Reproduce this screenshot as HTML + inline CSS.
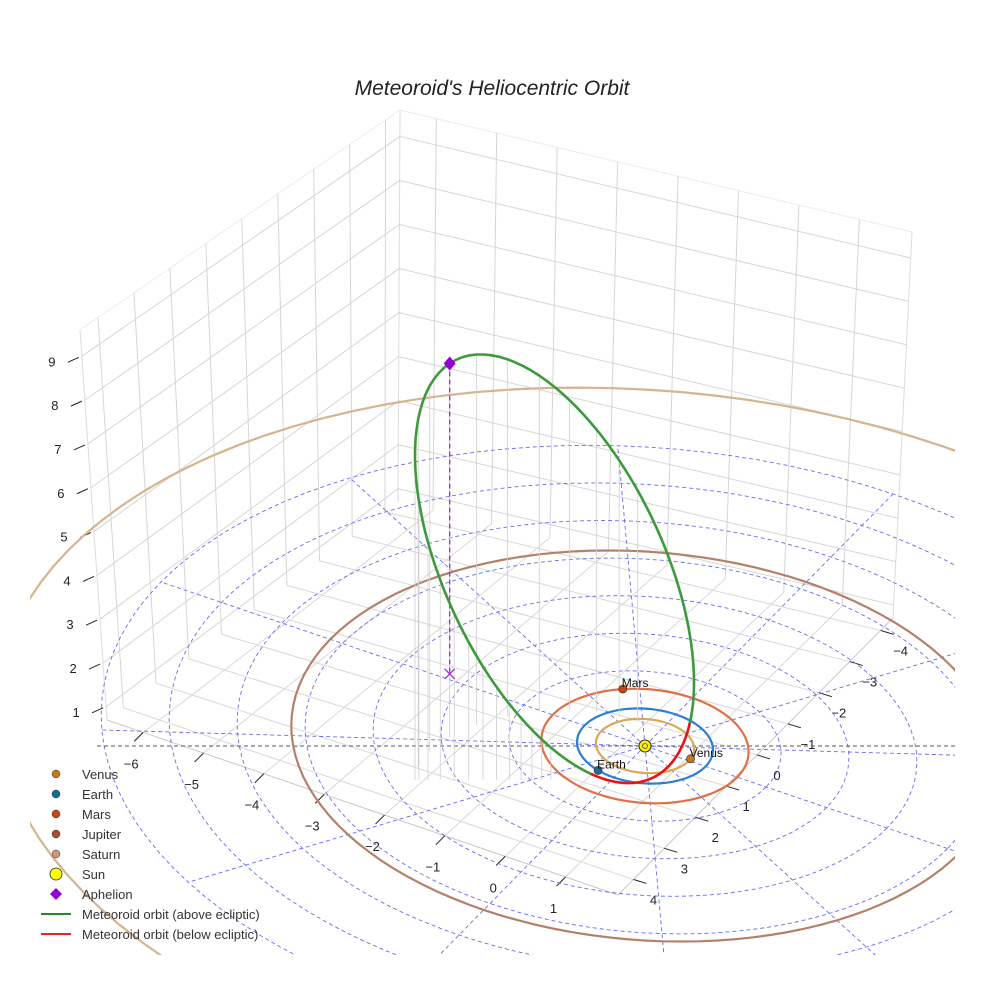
<!DOCTYPE html>
<html><head><meta charset="utf-8"><style>
html,body{margin:0;padding:0;background:#fff;overflow:hidden;width:984px;height:984px;}
svg{display:block;font-family:"Liberation Sans",sans-serif;}
</style></head><body>
<svg id="chart" width="984" height="984" viewBox="0 0 984 984" xmlns="http://www.w3.org/2000/svg">
<rect width="984" height="984" fill="#fff"/>
<text x="492" y="95" text-anchor="middle" font-size="21" font-style="italic" fill="#222">Meteoroid's Heliocentric Orbit</text>
<defs><clipPath id="clip"><rect x="30" y="0" width="925" height="955"/></clipPath></defs>
<g id="box"></g>
<g id="plane" clip-path="url(#clip)"></g>
<g id="data"></g>
<g id="legend"></g>
</svg>
<script>
// ---- data ----
const planetNames = ["Venus","Earth","Mars","Jupiter","Saturn"];
const planetRadii = [0.723,1.0,1.524,5.203,9.537];
const planetAngles = [-5,106.5,230.5,null,null];
const orbitColors = ["#dba955","#2a7fd4","#e07045","#b5806a","#d6b48e"];
const markerColors = ["#c47a16","#1a6a9a","#cc4410","#a0522d","#c89a78"];
const gridRings = [1,2,3,4,5,6,7,8];
const spokeAngles = [0,30,60,90,120,150,180,210,240,270,300,330];
const xTicks = [-6,-5,-4,-3,-2,-1,0,1];
const yTicks = [-4,-3,-2,-1,0,1,2,3,4];
const zTicks = [1,2,3,4,5,6,7,8,9];
// meteoroid orbit (heliocentric): perihelion & aphelion distances, aphelion position, node direction
const meteoroidQ = [0.56];
const meteoroidAphelionDist = [7.65];
const aphelionDir = [-3.3,-0.14,6.9];
const nodeAngle = [106.5];

const NS="http://www.w3.org/2000/svg";
function el(tag,attrs,parent){const e=document.createElementNS(NS,tag);for(const k in attrs)e.setAttribute(k,attrs[k]);parent.appendChild(e);return e;}
function proj(x,y,z){return [645+60.5*x-31*y, 746+20.5*x+31.5*y-45*z];}
function lerp(a,b,t){return [a[0]+(b[0]-a[0])*t,a[1]+(b[1]-a[1])*t];}
const box=document.getElementById('box'),plane=document.getElementById('plane'),data=document.getElementById('data'),legend=document.getElementById('legend');

// ---- box walls ----
const LT=[80,330],LB=[107,720],BT=[400,110],BB=[398,502],RT=[912,232],RB=[893,618],FB=[618,895];
const zs=z=>(z-0.7)/8.9, ysL=y=>(4.5-y)/8.9, xsR=x=>(x+6.6)/8.47;
function line(p,q,st,w,par,name){const l=el('line',{x1:p[0],y1:p[1],x2:q[0],y2:q[1],stroke:st,'stroke-width':w},par);return l;}
line(LT,BT,'#ececec',1,box,'box-edge');line(BT,RT,'#ececec',1,box,'box-edge');
line(LT,LB,'#dcdcdc',1,box,'box-edge');line(RT,RB,'#dcdcdc',1,box,'box-edge');line(BT,BB,'#dcdcdc',1,box,'box-edge');
line(LB,FB,'#c8c8c8',1,box,'box-edge');line(FB,RB,'#c8c8c8',1,box,'box-edge');
zTicks.forEach(z=>{const t=zs(z);
 line(lerp(LB,LT,t),lerp(BB,BT,t),'#d6d6d6',1,box,'wall-gridline');
 line(lerp(BB,BT,t),lerp(RB,RT,t),'#d6d6d6',1,box,'wall-gridline');});
yTicks.forEach(y=>{const s=ysL(y);
 line(lerp(LB,BB,s),lerp(LT,BT,s),'#d6d6d6',1,box,'wall-gridline');
 line(lerp(LB,BB,s),lerp(FB,RB,s),'#d8d8d8',1,box,'floor-gridline');});
xTicks.forEach(x=>{const s=xsR(x);
 line(lerp(BB,RB,s),lerp(BT,RT,s),'#d6d6d6',1,box,'wall-gridline');
 line(lerp(LB,FB,s),lerp(BB,RB,s),'#d8d8d8',1,box,'floor-gridline');});
function label(txt,p,name){const t=el('text',{x:p[0],y:p[1],'font-size':13,fill:'#222','text-anchor':'middle'},box);t.textContent=txt;}
const fmt=v=>v<0?'\u2212'+(-v):''+v;
xTicks.forEach(x=>{const p=lerp(LB,FB,xsR(x));line(p,[p[0]-9,p[1]+9],'#222',1,box,'x-tick');label(fmt(x),[p[0]-12,p[1]+36],'x-tick-label');});
yTicks.forEach(y=>{const p=lerp(FB,RB,(4.5-y)/8.9);line(p,[p[0]+13,p[1]+4],'#222',1,box,'y-tick');label(fmt(y),[p[0]+20,p[1]+25],'y-tick-label');});
zTicks.forEach(z=>{const p=lerp(LB,LT,zs(z));line([p[0]-3,p[1]+1],[p[0]-14,p[1]+6],'#222',1,box,'z-tick');label(fmt(z),[p[0]-30,p[1]+10],'z-tick-label');});

// ---- ecliptic plane grid ----
function ringPath(r){let d='';for(let a=0;a<=360;a+=3){const t=a*Math.PI/180;const p=proj(r*Math.cos(t),r*Math.sin(t),0);d+=(a?'L':'M')+p[0].toFixed(1)+' '+p[1].toFixed(1);}return d+'Z';}
gridRings.forEach(r=>{const e=el('path',{d:ringPath(r),fill:'none',stroke:'#6b6bee','stroke-width':0.9,'stroke-dasharray':'4,3'},plane);
 });
const rMax=gridRings[gridRings.length-1];
spokeAngles.forEach(ang=>{const a=ang*Math.PI/180;const p=proj(rMax*Math.cos(a),rMax*Math.sin(a),0);
 const e=el('line',{x1:645,y1:746,x2:p[0],y2:p[1],stroke:'#6b6bee','stroke-width':0.9,'stroke-dasharray':'4,3'},plane);
 });
{const e=el('line',{x1:97,y1:746,x2:955,y2:746,stroke:'#556','stroke-width':0.9,'stroke-dasharray':'4,3'},plane);
 }
planetRadii.forEach((r,i)=>{const e=el('path',{d:ringPath(r),fill:'none',stroke:orbitColors[i],'stroke-width':2.2},plane);
 });

// ---- meteoroid orbit ----
const q=meteoroidQ[0],Q=meteoroidAphelionDist[0];
const a=(q+Q)/2,e=(Q-q)/(Q+q),pp=a*(1-e*e);
const An=Math.hypot(...aphelionDir);const P=aphelionDir.map(v=>-v/An);
const na=nodeAngle[0]*Math.PI/180,N=[Math.cos(na),Math.sin(na),0];
const dNP=N[0]*P[0]+N[1]*P[1]+N[2]*P[2];let Qv=N.map((v,i)=>v-dNP*P[i]);const Qn=Math.hypot(...Qv);Qv=Qv.map(v=>v/Qn);
const pts=[];for(let d=0;d<=360;d+=1){const nu=d*Math.PI/180;const r=pp/(1+e*Math.cos(nu));
 pts.push([0,1,2].map(i=>r*(Math.cos(nu)*P[i]+Math.sin(nu)*Qv[i])));}
pts.forEach((p,i)=>{if(i%4===0&&p[2]>0.6){const s=proj(...p);if(s[0]>645)return;const g=proj(p[0],p[1],-1.4);
 const gy=Math.min(g[1],780);
 const l=el('line',{x1:s[0],y1:s[1],x2:g[0],y2:gy,stroke:'#cfcfcf','stroke-width':0.8},data);
 }});
{const ap=proj(...aphelionDir),g=proj(aphelionDir[0],aphelionDir[1],0);
 const l=el('line',{x1:ap[0],y1:ap[1],x2:g[0],y2:g[1],stroke:'#9a2fc8','stroke-width':1.3,'stroke-dasharray':'5,3'},data);
 
 const x=el('path',{d:`M${g[0]-5} ${g[1]-5}L${g[0]+5} ${g[1]+5}M${g[0]-5} ${g[1]+5}L${g[0]+5} ${g[1]-5}`,stroke:'#9a2fc8','stroke-width':1.3,fill:'none'},data);
 }
let seg=[],above=pts[0][2]>=0;
function flush(ab){if(seg.length<2)return;const d=seg.map((p,i)=>(i?'L':'M')+p[0].toFixed(1)+' '+p[1].toFixed(1)).join('');
 const o=el('path',{d:d,fill:'none',stroke:ab?'#3c9a3c':'#ee1111','stroke-width':2.6,'stroke-linecap':'round'},data);
 }
pts.forEach(p=>{const ab=p[2]>=0;const s=proj(...p);if(ab!==above){seg.push(s);flush(above);seg=[s];above=ab;}else seg.push(s);});
flush(above);
{const ap=proj(...aphelionDir);const m=el('path',{d:`M${ap[0]} ${ap[1]-7}L${ap[0]+6} ${ap[1]}L${ap[0]} ${ap[1]+7}L${ap[0]-6} ${ap[1]}Z`,fill:'#9400d3'},data);
 }
planetNames.forEach((n,i)=>{if(planetAngles[i]===null)return;const t=planetAngles[i]*Math.PI/180;const p=proj(planetRadii[i]*Math.cos(t),planetRadii[i]*Math.sin(t),0);
 const c=el('circle',{cx:p[0],cy:p[1],r:4,fill:markerColors[i],stroke:'#333','stroke-width':0.7},data);
 
 const tx=el('text',{x:p[0]-1,y:p[1]-2,'font-size':12,fill:'#111'},data);tx.textContent=n;
 });
{const s=proj(0,0,0);const c=el('circle',{cx:s[0],cy:s[1],r:6,fill:'#ffee00',stroke:'#222','stroke-width':1},data);
 
 const c2=el('circle',{cx:s[0],cy:s[1],r:2.5,fill:'#ffee00',stroke:'#444','stroke-width':0.8},data);
 }

// ---- legend ----
const legendLabels=["Venus","Earth","Mars","Jupiter","Saturn","Sun","Aphelion","Meteoroid orbit (above ecliptic)","Meteoroid orbit (below ecliptic)"];
legendLabels.forEach((lab,i)=>{const y=774+i*20;let m;
 if(i<5){m=el('circle',{cx:56,cy:y,r:4,fill:markerColors[i],stroke:'#333','stroke-width':0.5},legend);}
 else if(i===5){m=el('circle',{cx:56,cy:y,r:6,fill:'#ffff00',stroke:'#222','stroke-width':0.8},legend);}
 else if(i===6){m=el('path',{d:`M56 ${y-6}L62 ${y}L56 ${y+6}L50 ${y}Z`,fill:'#9400d3'},legend);}
 else{m=el('line',{x1:41,y1:y,x2:71,y2:y,stroke:i===7?'#228b22':'#ee2222','stroke-width':2},legend);}
 
 const t=el('text',{x:82,y:y+5,'font-size':13,fill:'#333'},legend);t.textContent=lab;
 });
</script>
</body></html>
